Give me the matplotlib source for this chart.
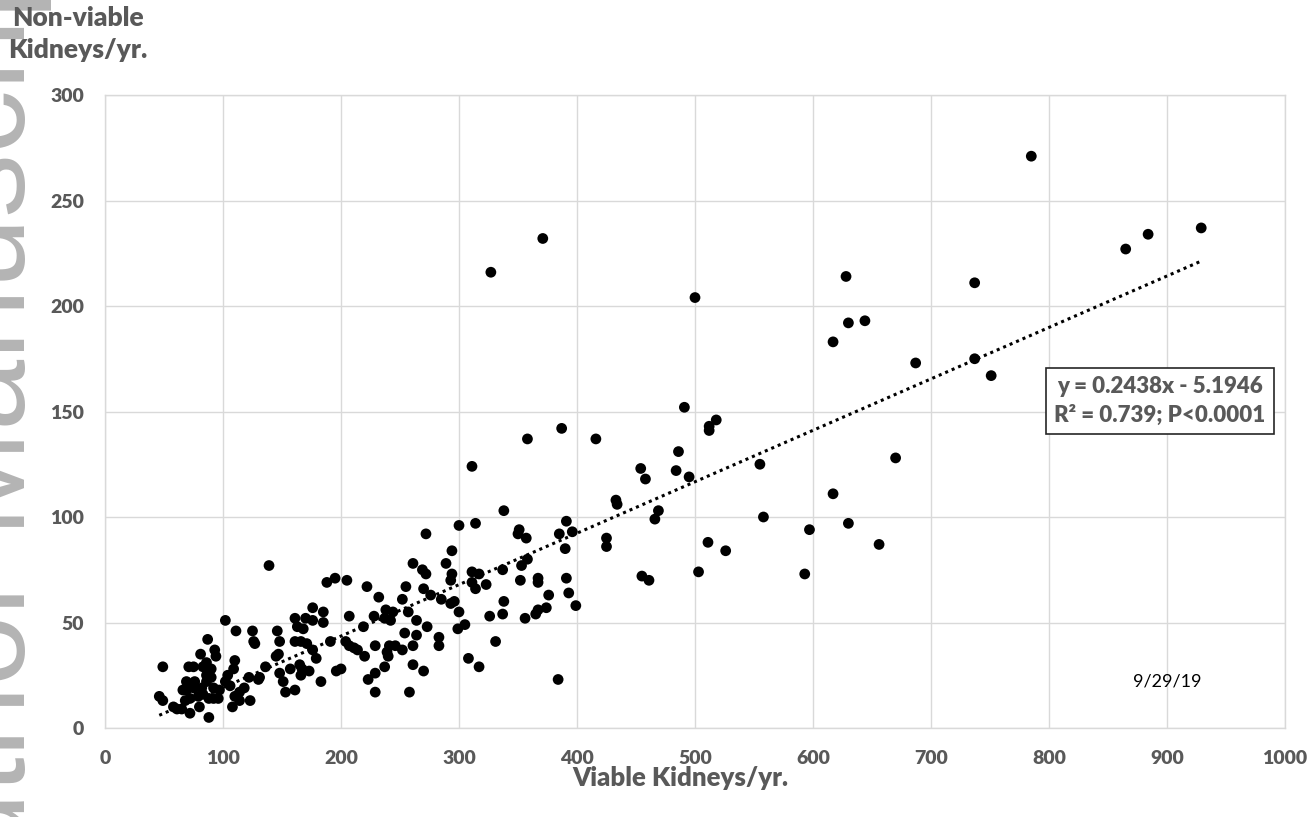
import matplotlib
matplotlib.use("Agg")
import matplotlib.pyplot as plt

plt.rcParams["font.family"] = ["Lato", "DejaVu Sans"]

# viable vs non-viable kidneys per year (one point per centre)
viable = [
    102, 111, 125, 126, 127, 87, 93, 94, 81, 86,
    49, 71, 75, 83, 90, 110, 109, 104, 102, 69,
    76, 69, 75, 66, 86, 86, 90, 92, 97, 82,
    83, 79, 72, 68, 88, 92, 96, 46, 49, 58,
    61, 65, 72, 80, 88, 108, 110, 114, 114, 118,
    122, 123, 130, 106,
    139, 261, 188, 195, 205, 222, 232, 255, 252, 176,
    185, 161, 170, 176, 185, 163, 168, 207, 228, 238,
    244, 237, 242, 257, 264, 273, 219, 146, 148, 161,
    166, 171, 191, 204, 207, 211, 214, 220, 229, 241,
    246, 239, 240, 252, 254, 264, 261, 261, 270, 176,
    179, 145, 147, 136, 131, 157, 165, 167, 173, 166,
    148, 151, 153, 161, 183, 196, 200, 223, 229, 237,
    229, 258,
    387, 358, 416, 311, 454, 458, 486, 484, 495, 338,
    433, 434, 469, 466, 300, 314, 391, 272, 350, 351,
    357, 385, 396, 390, 425, 425, 294, 289, 269, 272,
    294, 293, 270, 276, 285, 293, 296, 300, 305, 299,
    283, 283, 308, 317, 311, 317, 311, 314, 323, 337,
    352, 353, 358, 367, 367, 391, 393, 399, 376, 374,
    367, 365, 356, 337, 338, 326, 331, 384, 455, 461,
    500, 785, 929, 884, 865, 628, 737, 630, 644, 617,
    687, 737, 751, 518, 512, 512, 555, 670, 617, 558,
    630, 597, 511, 526, 656, 503, 593, 491, 327, 371,
]
nonviable = [
    51, 46, 46, 41, 40, 42, 37, 34, 35, 31,
    29, 29, 29, 29, 28, 32, 28, 25, 22, 22,
    22, 18, 19, 18, 25, 22, 24, 19, 18, 19,
    16, 15, 14, 13, 14, 14, 14, 15, 13, 10,
    9, 9, 7, 10, 5, 10, 15, 17, 13, 19,
    24, 13, 23, 20,
    77, 78, 69, 71, 70, 67, 62, 67, 61, 57,
    55, 52, 52, 51, 50, 48, 47, 53, 53, 56,
    55, 52, 51, 55, 51, 48, 48, 46, 41, 41,
    41, 40, 41, 41, 39, 38, 37, 34, 39, 39,
    39, 36, 34, 37, 45, 44, 39, 30, 27, 37,
    33, 34, 35, 29, 24, 28, 30, 28, 27, 25,
    26, 22, 17, 18, 22, 27, 28, 23, 26, 29,
    17, 17,
    142, 137, 137, 124, 123, 118, 131, 122, 119, 103,
    108, 106, 103, 99, 96, 97, 98, 92, 92, 94,
    90, 92, 93, 85, 90, 86, 84, 78, 75, 73,
    73, 70, 66, 63, 61, 59, 60, 55, 49, 47,
    43, 39, 33, 29, 74, 73, 69, 66, 68, 75,
    70, 77, 80, 71, 69, 71, 64, 58, 63, 57,
    56, 54, 52, 54, 60, 53, 41, 23, 72, 70,
    204, 271, 237, 234, 227, 214, 211, 192, 193, 183,
    173, 175, 167, 146, 143, 141, 125, 128, 111, 100,
    97, 94, 88, 84, 87, 74, 73, 152, 216, 232,
]

x_ticks = list(range(0, 1001, 100))
y_ticks = list(range(0, 301, 50))

slope, intercept = 0.2438, -5.1946
eq_text = "y = 0.2438x - 5.1946\nR² = 0.739; P<0.0001"
date_text = "9/29/19"

GRID = "#d9d9d9"
TXT = "#595959"

fig = plt.figure(figsize=(13.12, 8.17), dpi=100)
ax = fig.add_axes([105 / 1312, 1 - 728 / 817, 1180 / 1312, 633 / 817])

ax.scatter(viable, nonviable, s=60, color="black", edgecolors="none", zorder=3)

x0, x1 = min(viable), max(viable)
ax.plot([x0, x1], [slope * x0 + intercept, slope * x1 + intercept],
        color="black", lw=2.2, linestyle=(0, (1.0, 1.3)), zorder=2)

ax.set_xlim(0, 1000)
ax.set_ylim(0, 300)
ax.set_xticks(x_ticks)
ax.set_xticklabels([str(v) for v in x_ticks], fontweight="heavy")
ax.set_yticks(y_ticks)
ax.set_yticklabels([str(v) for v in y_ticks], fontweight="heavy")
ax.grid(True, color=GRID, lw=1.0)
ax.set_axisbelow(True)
for sp in ax.spines.values():
    sp.set_color(GRID)
    sp.set_linewidth(1.0)
ax.tick_params(length=0, labelsize=14, labelcolor=TXT)
ax.tick_params(axis="x", pad=16)
ax.tick_params(axis="y", pad=15)

ax.text(894, 155, eq_text, ha="center", va="center", fontsize=16,
        fontweight="heavy", color=TXT, linespacing=1.45, zorder=4,
        bbox=dict(boxstyle="square,pad=0.36", fc="white", ec="#262626", lw=1.2))
ax.text(900, 22, date_text, ha="center", va="center", fontsize=13, color="black")

fig.text(680 / 1312, 1 - 778 / 817, "Viable Kidneys/yr.", ha="center", va="center",
         fontsize=18.5, fontweight="heavy", color=TXT)
fig.text(78 / 1312, 1 - 6 / 817, "Non-viable\nKidneys/yr.", ha="center", va="top",
         fontsize=19, fontweight="heavy", color=TXT, linespacing=1.4,
         multialignment="center", zorder=5)

# faint rotated watermark on the left edge
fig.text(25 / 1312, 1 - 430 / 817, "Author Manuscript", rotation=90,
         rotation_mode="anchor", ha="center", va="baseline", fontsize=92,
         family="Liberation Sans", color="#b4b4b4", zorder=0)

fig.savefig("out.png", dpi=100)
